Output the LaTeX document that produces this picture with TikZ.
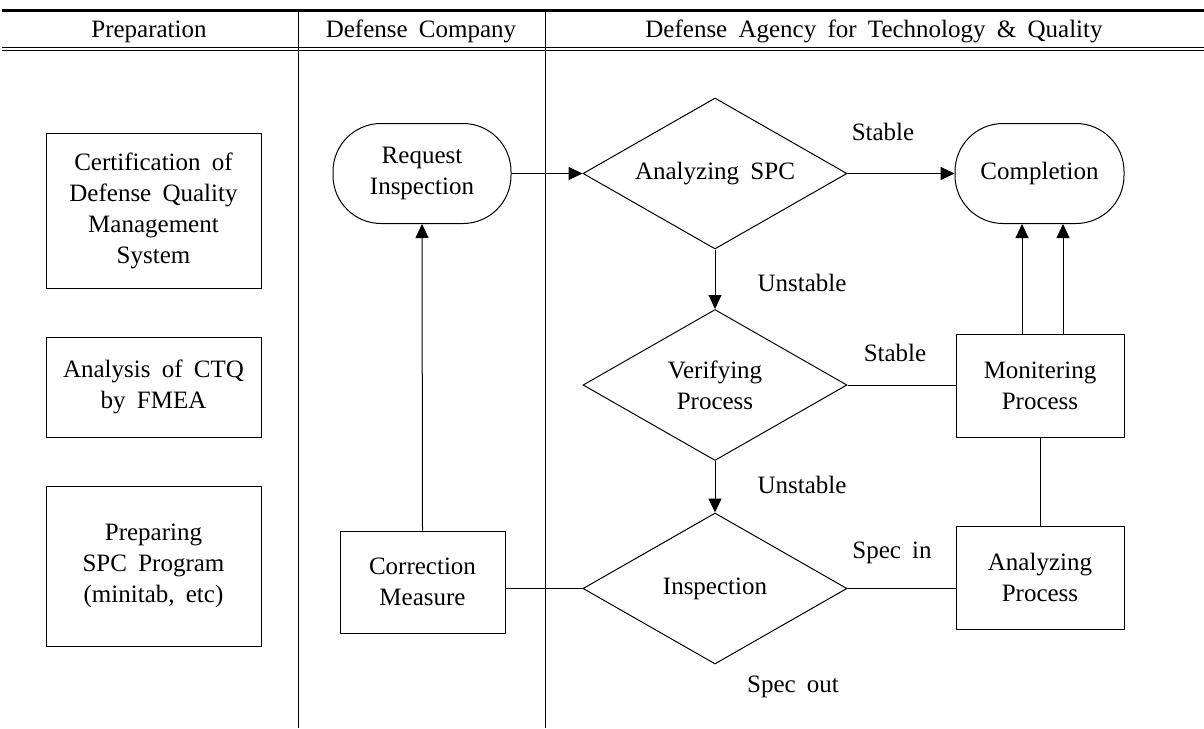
\documentclass[tikz,border=0pt]{standalone}
\usepackage{fontspec}
\setmainfont{Liberation Serif}[WordSpace=1.8]
\usetikzlibrary{shapes.geometric,arrows.meta,calc}
\tikzset{
  every node/.style={font=\fontsize{12.5pt}{15.5pt}\selectfont, align=center, inner sep=0pt},
  thin line/.style={line width=0.5pt},
  box/.style={draw, thin line, rectangle},
  term/.style={draw, thin line, rectangle, rounded corners=24pt, minimum height=50pt},
  decision/.style={draw, thin line, diamond, aspect=1.75, minimum width=132pt, minimum height=75.5pt},
  arr/.style={thin line, -{Triangle[length=7pt,width=6.5pt]}},
  conn/.style={thin line},
  lbl/.style={},
  head/.style={anchor=base}
}
\begin{document}
\begin{tikzpicture}[x=0.5pt, y=-0.5pt]
\useasboundingbox (0,0) rectangle (1204,728);
% table rules
\coordinate (tl) at (2,10);
\coordinate (tr) at (1204,10);
\draw[line width=1.5pt] (tl) -- (tr);
\draw[thin line] (2,47) -- (1204,47);
\draw[thin line] (2,50) -- (1204,50);
\draw[thin line] (298,10) -- (298,728);
\draw[thin line] (545,10) -- (545,728);
% headers
\node[head] (h1) at (149,37) {Preparation};
\node[head] (h2) at (421,37) {Defense Company};
\node[head] (h3) at (874,37) {Defense Agency for Technology \& Quality};
% preparation boxes
\node[box, minimum width=107.5pt, minimum height=77.5pt] (p1) at (153.5,210.5)
  {Certification of\\Defense Quality\\Management\\System};
\node[box, minimum width=107.5pt, minimum height=50pt] (p2) at (153.5,387)
  {Analysis of CTQ\\by FMEA};
\node[box, minimum width=107.5pt, minimum height=80pt] (p3) at (153.5,566)
  {Preparing\\SPC Program\\(minitab, etc)};
% defense company
\node[term, minimum width=89pt] (req) at (422,173.5) {Request\\Inspection};
\node[box, minimum width=82.5pt, minimum height=51pt] (corr) at (422.5,582) {Correction\\Measure};
% agency
\node[decision] (spc) at (715,173.5) {Analyzing SPC};
\node[decision] (ver) at (715,385) {Verifying\\Process};
\node[decision] (insp) at (715,588.5) {Inspection};
\node[term, minimum width=84.5pt] (comp) at (1039.5,173.5) {Completion};
\node[box, minimum width=84pt, minimum height=51.5pt] (mon) at (1040,385.5) {Monitering\\Process};
\node[box, minimum width=84pt, minimum height=51.5pt] (anp) at (1040,577.5) {Analyzing\\Process};
% labels
\node[lbl] (l1) at (883,132) {Stable};
\node[lbl] (l2) at (802,283) {Unstable};
\node[lbl] (l3) at (895,353) {Stable};
\node[lbl] (l4) at (802,485) {Unstable};
\node[lbl] (l5) at (892,553) {Spec in};
\node[lbl] (l6) at (793,687) {Spec out};
% connectors
\draw[arr] (req.east) -- (spc.west);
\draw[arr] (spc.east) -- (comp.west);
\draw[arr] (spc.south) -- (ver.north);
\draw[arr] (ver.south) -- (insp.north);
\draw[conn] (ver.east) -- (ver.east -| mon.west);
\draw[conn] (insp.east) -- (insp.east -| anp.west);
\draw[conn] (insp.west -| corr.east) -- (insp.west);
\draw[arr] (corr.north) -- (req.south);
\draw[conn] (anp.north) -- (mon.south);
\draw[arr] ([xshift=-9pt]mon.north) -- ([xshift=-9pt]mon.north |- comp.south);
\draw[arr] ([xshift=11.5pt]mon.north) -- ([xshift=11.5pt]mon.north |- comp.south);
\end{tikzpicture}
\end{document}
